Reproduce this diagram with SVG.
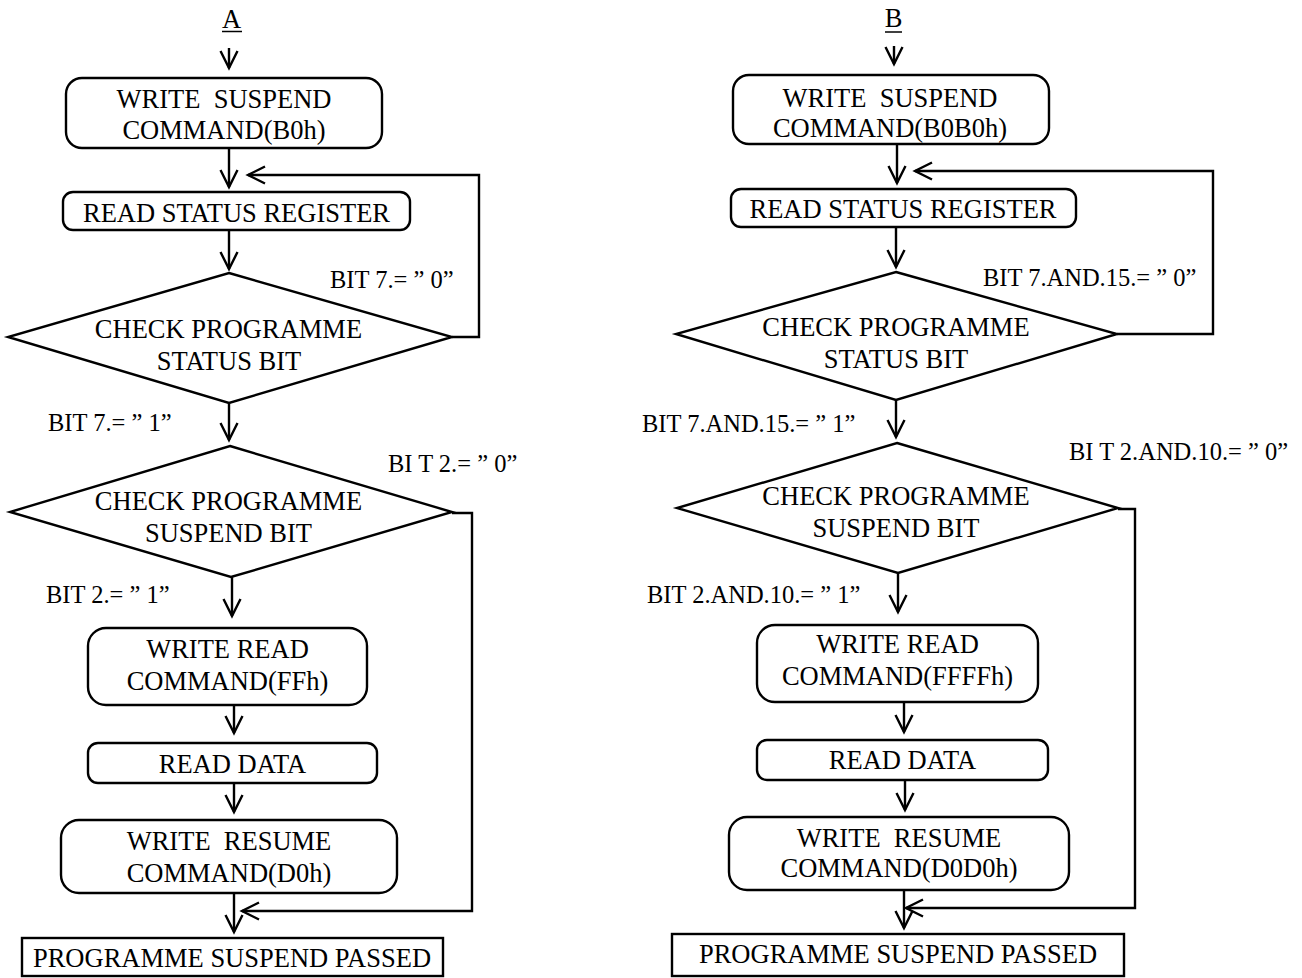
<svg xmlns="http://www.w3.org/2000/svg" width="1302" height="978" viewBox="0 0 1302 978">
<style>
.b{fill:#fff;stroke:#000;stroke-width:2.4}
.l{fill:none;stroke:#000;stroke-width:2.4}
.t{font-family:"Liberation Serif","Times New Roman",serif;font-size:26.5px;fill:#000;text-anchor:middle;white-space:pre}
.s{font-family:"Liberation Serif","Times New Roman",serif;font-size:24.5px;fill:#000;white-space:pre}
</style>
<defs>
<marker id="ah" markerUnits="userSpaceOnUse" markerWidth="24" markerHeight="24" viewBox="-20 -12 24 24" refX="0" refY="0" orient="auto">
<path d="M-17,-8.5 L0,0 L-17,8.5" fill="none" stroke="#000" stroke-width="2.4"/>
</marker>
</defs>
<rect width="1302" height="978" fill="#fff"/>

<g id="connectors">
<!-- left -->
<line class="l" x1="229" y1="48" x2="229" y2="68" marker-end="url(#ah)"/>
<line class="l" x1="229" y1="148" x2="229" y2="187" marker-end="url(#ah)"/>
<polyline class="l" points="452,337 479,337 479,175 248,175" marker-end="url(#ah)"/>
<line class="l" x1="229" y1="230" x2="229" y2="269" marker-end="url(#ah)"/>
<line class="l" x1="229" y1="403" x2="229" y2="440" marker-end="url(#ah)"/>
<line class="l" x1="232" y1="577" x2="232" y2="616" marker-end="url(#ah)"/>
<polyline class="l" points="452,513 472,513 472,911 242,911" marker-end="url(#ah)"/>
<line class="l" x1="234" y1="705" x2="234" y2="733" marker-end="url(#ah)"/>
<line class="l" x1="234" y1="783" x2="234" y2="812" marker-end="url(#ah)"/>
<line class="l" x1="234" y1="893" x2="234" y2="932" marker-end="url(#ah)"/>
<!-- right -->
<line class="l" x1="894" y1="46" x2="894" y2="64" marker-end="url(#ah)"/>
<line class="l" x1="897" y1="144" x2="897" y2="183" marker-end="url(#ah)"/>
<polyline class="l" points="1117,334 1213,334 1213,171 915,171" marker-end="url(#ah)"/>
<line class="l" x1="896" y1="227" x2="896" y2="267" marker-end="url(#ah)"/>
<line class="l" x1="896" y1="400" x2="896" y2="437" marker-end="url(#ah)"/>
<line class="l" x1="898" y1="573" x2="898" y2="612" marker-end="url(#ah)"/>
<polyline class="l" points="1118,509 1135,509 1135,908 906,908" marker-end="url(#ah)"/>
<line class="l" x1="904" y1="702" x2="904" y2="732" marker-end="url(#ah)"/>
<line class="l" x1="905" y1="780" x2="905" y2="810" marker-end="url(#ah)"/>
<line class="l" x1="904" y1="890" x2="904" y2="928" marker-end="url(#ah)"/>
</g>

<g id="labels">
<text class="s" x="330" y="288">BIT 7.= ” 0”</text>
<text class="s" x="48" y="431">BIT 7.= ” 1”</text>
<text class="s" x="388" y="472">BI T 2.= ” 0”</text>
<text class="s" x="46" y="603">BIT 2.= ” 1”</text>
<text class="s" x="983" y="286">BIT 7.AND.15.= ” 0”</text>
<text class="s" x="642" y="432">BIT 7.AND.15.= ” 1”</text>
<text class="s" x="1069" y="460">BI T 2.AND.10.= ” 0”</text>
<text class="s" x="647" y="603">BIT 2.AND.10.= ” 1”</text>
</g>

<!-- Left flow -->
<g id="A-start">
<text class="t" x="231.5" y="28">A</text>
<line x1="222" y1="31.5" x2="242" y2="31.5" stroke="#000" stroke-width="1.5"/>
</g>
<g id="A-write-suspend">
<rect class="b" x="66" y="78" width="316" height="70" rx="16"/>
<text class="t" x="224" y="108">WRITE  SUSPEND</text>
<text class="t" x="224" y="139">COMMAND(B0h)</text>
</g>
<g id="A-read-status">
<rect class="b" x="63" y="192" width="347" height="38" rx="10"/>
<text class="t" x="236.5" y="222">READ STATUS REGISTER</text>
</g>
<g id="A-check-status">
<polygon class="b" points="229,273 452,337 229,403 8,337"/>
<text class="t" x="228.5" y="338">CHECK PROGRAMME</text>
<text class="t" x="229" y="370">STATUS BIT</text>
</g>
<g id="A-check-suspend">
<polygon class="b" points="230,446 452,512 231,577 10,512"/>
<text class="t" x="228.5" y="510">CHECK PROGRAMME</text>
<text class="t" x="228.5" y="542">SUSPEND BIT</text>
</g>
<g id="A-write-read">
<rect class="b" x="88" y="628" width="279" height="77" rx="18"/>
<text class="t" x="227.5" y="658">WRITE READ</text>
<text class="t" x="227.5" y="690">COMMAND(FFh)</text>
</g>
<g id="A-read-data">
<rect class="b" x="88" y="743" width="289" height="40" rx="10"/>
<text class="t" x="232.5" y="773">READ DATA</text>
</g>
<g id="A-write-resume">
<rect class="b" x="61" y="820" width="336" height="73" rx="18"/>
<text class="t" x="229" y="850">WRITE  RESUME</text>
<text class="t" x="229" y="882">COMMAND(D0h)</text>
</g>
<g id="A-passed">
<rect class="b" x="22" y="938" width="421" height="38"/>
<text class="t" x="232" y="967">PROGRAMME SUSPEND PASSED</text>
</g>

<!-- Right flow -->
<g id="B-start">
<text class="t" x="893.5" y="27">B</text>
<line x1="885" y1="32" x2="902" y2="32" stroke="#000" stroke-width="1.5"/>
</g>
<g id="B-write-suspend">
<rect class="b" x="733" y="75" width="316" height="69" rx="16"/>
<text class="t" x="890" y="107">WRITE  SUSPEND</text>
<text class="t" x="890" y="137">COMMAND(B0B0h)</text>
</g>
<g id="B-read-status">
<rect class="b" x="731" y="189" width="345" height="38" rx="10"/>
<text class="t" x="903" y="218">READ STATUS REGISTER</text>
</g>
<g id="B-check-status">
<polygon class="b" points="896,272 1117,334 896,400 676,334"/>
<text class="t" x="896" y="336">CHECK PROGRAMME</text>
<text class="t" x="896" y="368">STATUS BIT</text>
</g>
<g id="B-check-suspend">
<polygon class="b" points="897,443 1118,508 898,573 677,508"/>
<text class="t" x="896" y="505">CHECK PROGRAMME</text>
<text class="t" x="896" y="537">SUSPEND BIT</text>
</g>
<g id="B-write-read">
<rect class="b" x="757" y="625" width="281" height="77" rx="18"/>
<text class="t" x="897.5" y="653">WRITE READ</text>
<text class="t" x="897.5" y="685">COMMAND(FFFFh)</text>
</g>
<g id="B-read-data">
<rect class="b" x="757" y="740" width="291" height="40" rx="10"/>
<text class="t" x="902.5" y="769">READ DATA</text>
</g>
<g id="B-write-resume">
<rect class="b" x="729" y="817" width="340" height="73" rx="18"/>
<text class="t" x="899" y="847">WRITE  RESUME</text>
<text class="t" x="899" y="877">COMMAND(D0D0h)</text>
</g>
<g id="B-passed">
<rect class="b" x="672" y="934" width="452" height="42"/>
<text class="t" x="898" y="963">PROGRAMME SUSPEND PASSED</text>
</g>
</svg>
